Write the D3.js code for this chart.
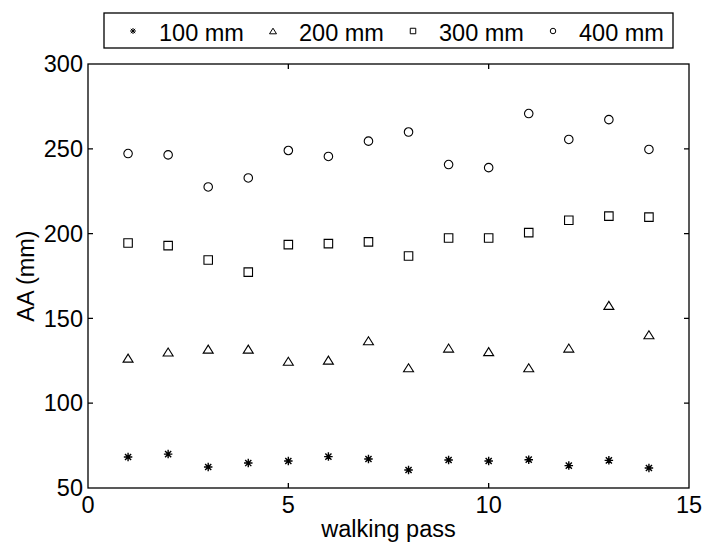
<!DOCTYPE html>
<html>
<head>
<meta charset="utf-8">
<script src="https://cdn.jsdelivr.net/npm/d3@7"></script>
<style>
  body { margin: 0; background: #fff; }
  svg text { font-family: "Liberation Sans", Arial, sans-serif; fill: #000; }
</style>
</head>
<body>
<div id="chart"></div>
<script>
const passes = [1, 2, 3, 4, 5, 6, 7, 8, 9, 10, 11, 12, 13, 14];
const mm100 = [68.3, 70, 62.4, 64.7, 65.9, 68.5, 67.1, 60.6, 66.5, 65.9, 66.7, 63.2, 66.3, 61.8];
const mm200 = [126.6, 130.2, 131.9, 131.9, 124.7, 125.4, 136.8, 120.9, 132.5, 130.4, 120.9, 132.5, 157.7, 140.4];
const mm300 = [194.5, 192.9, 184.4, 177.3, 193.5, 194.1, 195.1, 186.8, 197.4, 197.4, 200.6, 207.9, 210.3, 209.7];
const mm400 = [247.2, 246.4, 227.5, 232.8, 249, 245.5, 254.5, 259.9, 240.7, 238.9, 270.8, 255.5, 267.2, 249.6];
const seriesNames = ["100 mm", "200 mm", "300 mm", "400 mm"];
const xTicks = [0, 5, 10, 15];
const yTicks = [50, 100, 150, 200, 250, 300];

const W = 705, H = 542;
const margin = { top: 64, right: 16, bottom: 54, left: 88 };
const fs = 23.5;

const svg = d3.select("#chart").append("svg")
  .attr("width", W).attr("height", H);

const x = d3.scaleLinear().domain([0, 15]).range([margin.left, W - margin.right]);
const y = d3.scaleLinear().domain([50, 300]).range([H - margin.bottom, margin.top]);

// marker shapes (local coords, centred on 0,0)
const shapes = {
  star: (s) => {
    const r = s / 2, d = r * 0.72;
    return `M${-r},0H${r}M0,${-r}V${r}M${-d},${-d}L${d},${d}M${-d},${d}L${d},${-d}`;
  },
  tri: (s) => {
    const w = s / 2, h = s * 0.4;
    return `M0,${-h}L${w},${h}L${-w},${h}Z`;
  },
  square: (s) => {
    const r = s / 2;
    return `M${-r},${-r}H${r}V${r}H${-r}Z`;
  },
  circle: (s) => {
    const r = s / 2;
    return `M${r},0A${r},${r} 0 1,1 ${-r},0A${r},${r} 0 1,1 ${r},0Z`;
  }
};

const series = [
  { name: seriesNames[0], values: mm100, shape: "star", size: 8.5, legendSize: 6 },
  { name: seriesNames[1], values: mm200, shape: "tri", size: 10, legendSize: 7 },
  { name: seriesNames[2], values: mm300, shape: "square", size: 8.5, legendSize: 5.5 },
  { name: seriesNames[3], values: mm400, shape: "circle", size: 8.5, legendSize: 5.5 }
];

// frame
const frame = svg.append("g").attr("stroke", "#000").attr("stroke-width", 1.3).attr("fill", "none");
frame.append("rect")
  .attr("x", x(0)).attr("y", y(300))
  .attr("width", x(15) - x(0)).attr("height", y(50) - y(300));

const tl = 5;
frame.selectAll(".xt").data(xTicks.slice(1, -1)).join("path")
  .attr("d", d => `M${x(d)},${y(50)}v${-tl}M${x(d)},${y(300)}v${tl}`);
frame.selectAll(".yt").data(yTicks.slice(1, -1)).join("path")
  .attr("d", d => `M${x(0)},${y(d)}h${tl}M${x(15)},${y(d)}h${-tl}`);

// tick labels
svg.selectAll(".xl").data(xTicks).join("text")
  .attr("x", d => x(d)).attr("y", y(50) + 25)
  .attr("text-anchor", "middle").attr("font-size", fs)
  .text(d => d);
svg.selectAll(".yl").data(yTicks).join("text")
  .attr("x", x(0) - 5).attr("y", d => y(d)).attr("dy", "0.35em")
  .attr("text-anchor", "end").attr("font-size", fs)
  .text(d => d);

// axis titles
svg.append("text")
  .attr("x", (x(0) + x(15)) / 2).attr("y", 537)
  .attr("text-anchor", "middle").attr("font-size", fs)
  .text("walking pass");
svg.append("text")
  .attr("transform", `translate(34,${(y(50) + y(300)) / 2}) rotate(-90)`)
  .attr("text-anchor", "middle").attr("font-size", fs)
  .text("AA (mm)");

// markers
series.forEach(s => {
  svg.append("g").selectAll("path").data(s.values).join("path")
    .attr("transform", (d, i) => `translate(${x(passes[i])},${y(d)})`)
    .attr("d", shapes[s.shape](s.size))
    .attr("fill", "none").attr("stroke", "#000")
    .attr("stroke-width", s.shape === "star" ? 1.4 : 1.1);
});

// legend
const legend = svg.append("g");
legend.append("rect")
  .attr("x", 104).attr("y", 13).attr("width", 569).attr("height", 35)
  .attr("fill", "#fff").attr("stroke", "#000").attr("stroke-width", 1.3);
const item = legend.selectAll(".item").data(series).join("g")
  .attr("transform", (d, i) => `translate(${133 + i * 140},31)`);
item.append("path")
  .attr("d", d => shapes[d.shape](d.legendSize))
  .attr("fill", "none").attr("stroke", "#000").attr("stroke-width", 1);
item.append("text")
  .attr("x", 26).attr("y", 10).attr("font-size", fs)
  .text(d => d.name);
</script>
</body>
</html>
